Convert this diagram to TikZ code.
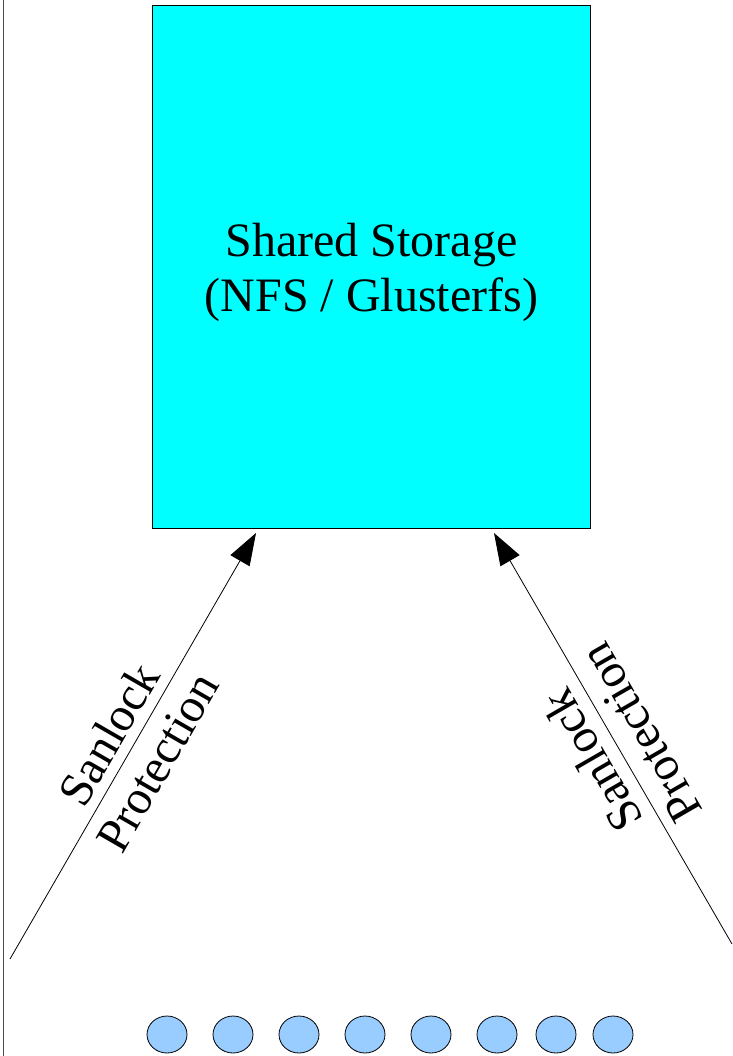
\documentclass[tikz,border=0pt]{standalone}
\usepackage{fontspec}
\setmainfont{Liberation Serif}
\usetikzlibrary{arrows.meta,shapes.geometric}
\definecolor{storagecyan}{RGB}{0,255,255}
\definecolor{hostblue}{HTML}{99CCFF}
\tikzset{
  lock/.style={-{Triangle[length=32pt,width=22pt]},line width=0.8pt},
  host/.style={ellipse,draw,line width=0.8pt,fill=hostblue,minimum width=40pt,minimum height=37pt,inner sep=0pt},
  locklabel/.style={align=center,font=\fontsize{48}{56}\selectfont}
}
\begin{document}
\begin{tikzpicture}[x=1pt,y=-1pt]
\useasboundingbox (0,0) rectangle (732,1056);
%\draw[step=50,lightgray,very thin] (0,0) grid (732,1056);
\draw[gray!60!black,line width=0.8pt] (3,0) -- (3,1056);

\node[draw,fill=storagecyan,line width=0.8pt,anchor=north west,minimum width=438pt,minimum height=523pt,
      label={[yshift=-6pt,align=center,font=\fontsize{48}{55}\selectfont]center:Shared Storage\\(NFS / Glusterfs)}]
      (storage) at (152,5) {};

\coordinate (lfoot) at (10,959);
\coordinate (ltip) at (256,533);
\coordinate (rfoot) at (732,944);
\coordinate (rtip) at (494,533);
\draw[lock] (lfoot) -- (ltip);
\draw[lock] (rfoot) -- (rtip);

\node[locklabel,rotate=60] (llabel) at (133,748) {Sanlock\\Protection};
\node[locklabel,rotate=120] (rlabel) at (616,747) {Sanlock\\Protection};

\foreach \x [count=\i] in {167,233,299,365,431,497,556,613}
  \node[host] (host\i) at (\x,1034.5) {};
\end{tikzpicture}
\end{document}
